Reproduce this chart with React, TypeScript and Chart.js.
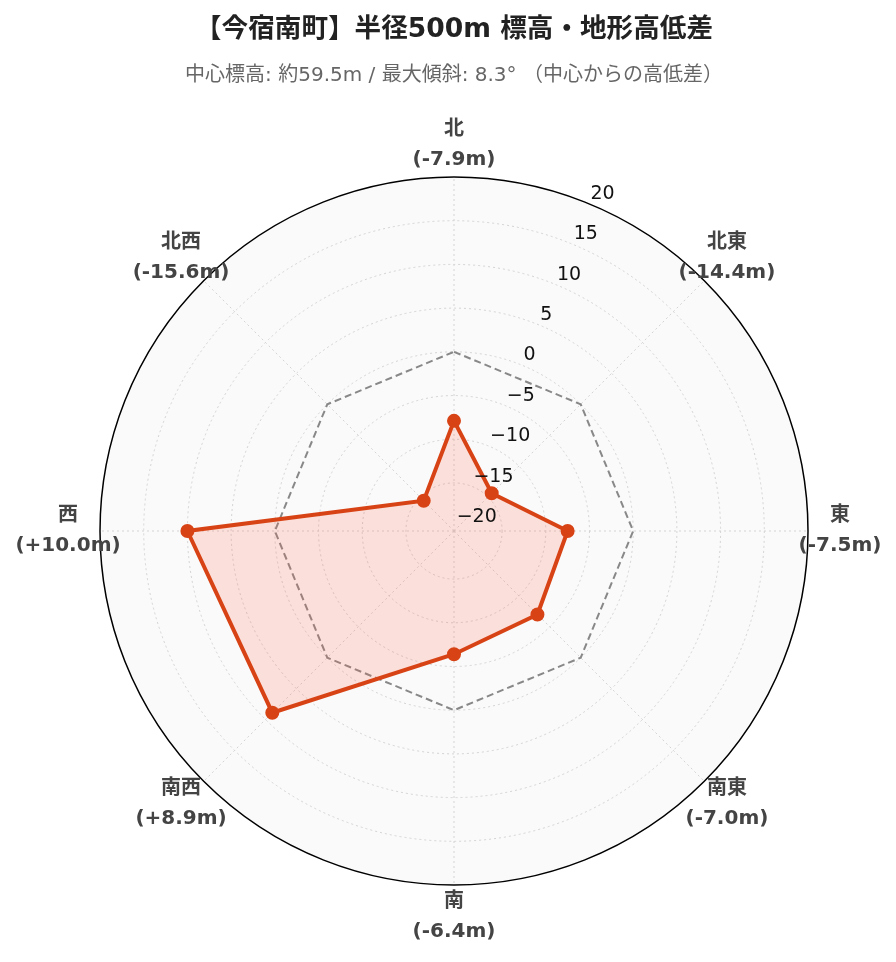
import React, { useEffect, useRef } from "react";
import { Chart, registerables } from "chart.js";

Chart.register(...registerables);

const directions = ["北", "北東", "東", "南東", "南", "南西", "西", "北西"];
const elevationDiffs = [-7.9, -14.4, -7.5, -7.0, -6.4, 8.9, 10.0, -15.6];
const referenceZero = [0, 0, 0, 0, 0, 0, 0, 0];
const tickValues = [-20, -15, -10, -5, 0, 5, 10, 15, 20];
const titleText = "【今宿南町】半径500m 標高・地形高低差";
const subtitleText = "中心標高: 約59.5m / 最大傾斜: 8.3° （中心からの高低差）";

const FONT = "'DejaVu Sans', 'Noto Sans CJK JP', sans-serif";

const fmtDiff = (v: number) => (v > 0 ? "+" : "") + v.toFixed(1) + "m";

const customPlugin = {
  id: "customPolar",
  beforeDraw(chart: any) {
    const s = chart.scales.r;
    const ctx = chart.ctx;
    ctx.save();
    ctx.fillStyle = "#fafafa";
    ctx.beginPath();
    ctx.arc(s.xCenter, s.yCenter, s.drawingArea, 0, Math.PI * 2);
    ctx.fill();
    ctx.restore();
  },
  afterDatasetsDraw(chart: any) {
    const s = chart.scales.r;
    const ctx = chart.ctx;
    ctx.save();
    // outer circle
    ctx.strokeStyle = "#000";
    ctx.lineWidth = 1.5;
    ctx.beginPath();
    ctx.arc(s.xCenter, s.yCenter, s.drawingArea, 0, Math.PI * 2);
    ctx.stroke();
    // radial tick labels along 22.5deg
    const ang = (22.5 * Math.PI) / 180;
    ctx.fillStyle = "#111";
    ctx.font = `19px ${FONT}`;
    ctx.textAlign = "left";
    ctx.textBaseline = "middle";
    tickValues.forEach((v) => {
      const r = s.getDistanceFromCenterForValue(v);
      const x = s.xCenter + r * Math.sin(ang);
      const y = s.yCenter - r * Math.cos(ang);
      const txt = v < 0 ? "\u2212" + Math.abs(v) : String(v);
      ctx.fillText(txt, x + 1, y - 10);
    });
    // direction labels
    ctx.fillStyle = "#444";
    ctx.textAlign = "center";
    directions.forEach((d, i) => {
      const p = s.getPointPosition(i, s.drawingArea + 32);
      ctx.font = `bold 20px ${FONT}`;
      ctx.fillText(d, p.x, p.y - 15);
      ctx.fillText("(" + fmtDiff(elevationDiffs[i]) + ")", p.x, p.y + 15);
    });
    ctx.restore();
  },
};

export default function App() {
  const ref = useRef<HTMLCanvasElement | null>(null);
  useEffect(() => {
    if (!ref.current) return;
    const chart = new Chart(ref.current, {
      type: "radar",
      data: {
        labels: directions,
        datasets: [
          {
            label: "高低差",
            data: elevationDiffs,
            borderColor: "#d84315",
            backgroundColor: "rgba(255,100,70,0.18)",
            borderWidth: 4,
            pointRadius: 5,
            pointBackgroundColor: "#d84315",
            pointBorderColor: "#d84315",
            fill: "start",
            order: 1,
          },
          {
            label: "基準",
            data: referenceZero,
            borderColor: "#888",
            borderWidth: 2,
            borderDash: [7, 4],
            pointRadius: 0,
            fill: false,
            order: 2,
          },
        ],
      },
      options: {
        responsive: false,
        animation: false,
        layout: { padding: { left: 92, right: 80, top: 0, bottom: 68 } },
        plugins: {
          legend: { display: false },
          tooltip: { enabled: false },
          title: {
            display: true,
            text: titleText,
            color: "#222",
            font: { family: FONT, size: 26.6, weight: "bold" },
            padding: { top: 6, bottom: 8 },
          },
          subtitle: {
            display: true,
            text: subtitleText,
            color: "#666",
            font: { family: FONT, size: 20 },
            padding: { top: 10, bottom: 90 },
          },
        },
        scales: {
          r: {
            min: -20.5,
            max: 20,
            ticks: { display: false, stepSize: 5 },
            pointLabels: { display: false },
            grid: {
              circular: true,
              color: (c: any) => (c.tick && c.tick.value === 20 ? "rgba(0,0,0,0)" : "#d4d4d4"),
              lineWidth: 1,
            },
            border: { dash: [2, 3] },
            angleLines: {
              color: "#d4d4d4",
              lineWidth: 1,
              borderDash: [2, 3],
            },
          },
        },
      },
      plugins: [customPlugin],
    });
    return () => chart.destroy();
  }, []);
  return (
    <div style={{ width: 880, height: 946 }}>
      <canvas ref={ref} width={880} height={946} style={{ width: 880, height: 946 }} />
    </div>
  );
}
